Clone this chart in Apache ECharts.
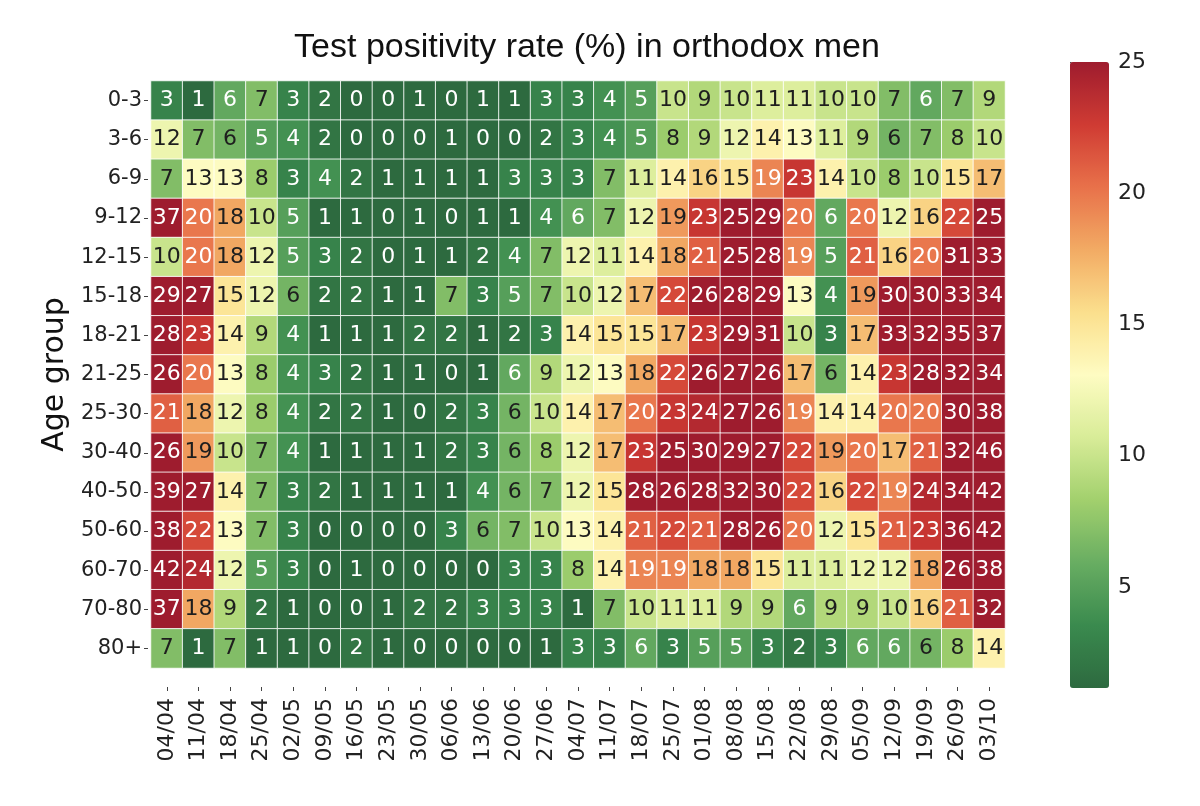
<!DOCTYPE html>
<html>
<head>
<meta charset="utf-8">
<script src="https://cdn.jsdelivr.net/npm/echarts@6/dist/echarts.min.js"></script>
<style>html,body{margin:0;padding:0;background:#fff;}#c{width:1200px;height:806px;}</style>
</head>
<body>
<div id="c"></div>
<script>
const titleText = 'Test positivity rate (%) in orthodox men';
const yName = 'Age group';
const weeks = ['04/04','11/04','18/04','25/04','02/05','09/05','16/05','23/05','30/05','06/06','13/06','20/06','27/06','04/07','11/07','18/07','25/07','01/08','08/08','15/08','22/08','29/08','05/09','12/09','19/09','26/09','03/10'];
const ageGroups = ['0-3','3-6','6-9','9-12','12-15','15-18','18-21','21-25','25-30','30-40','40-50','50-60','60-70','70-80','80+'];

const r0_3   = [3,1,5.6,7,3,2,0,0,1,0,1,1,3,3,4,5,10,9,10,11,11,10,10,7,5.6,7,9];
const r3_6   = [12,7,6.4,5,4,2,0,0,0,1,0,0,2,3,4,5,8,9,12,14,13,11,9,6.4,7,8,10];
const r6_9   = [7,13,13,8,3,4,2,1,1,1,1,3,3,3,7,11,14,16,15,19.4,23,14,10,8,10,15,17];
const r9_12  = [37,20,18,10,5,1,1,0,1,0,1,1,4,5.6,7,12,18.6,23,25,29,20,5.6,20,12,16,22,25];
const r12_15 = [10,20,18,12,5,3,2,0,1,1,2,4,7,12,11,14,18,21,25,28,19.4,5,21,16,20,31,33];
const r15_18 = [29,27,15,12,6.4,2,2,1,1,7,3,5,7,10,12,17,22,26,28,29,13,4,18.6,30,30,33,34];
const r18_21 = [28,23,14,9,4,1,1,1,2,2,1,2,3,14,15,15,17,23,29,31,10,3,17,33,32,35,37];
const r21_25 = [26,20,13,8,4,3,2,1,1,0,1,5.6,9,12,13,18,22,26,27,26,17,6.4,14,23,28,32,34];
const r25_30 = [21,18,12,8,4,2,2,1,0,2,3,6.4,10,14,17,20,23,24,27,26,19.4,14,14,20,20,30,38];
const r30_40 = [26,18.6,10,7,4,1,1,1,1,2,3,6.4,8,12,17,23,25,30,29,27,22,18.6,20,17,21,32,46];
const r40_50 = [39,27,14,7,3,2,1,1,1,1,4,6.4,7,12,15,28,26,28,32,30,22,16,22,19.4,24,34,42];
const r50_60 = [38,22,13,7,3,0,0,0,0,3,6.4,7,10,13,14,21,22,21,28,26,20,12,15,21,23,36,42];
const r60_70 = [42,24,12,5,3,0,1,0,0,0,0,3,3,8,14,19.4,19.4,18,18,15,11,11,12,12,18,26,38];
const r70_80 = [37,18,9,2,1,0,0,1,2,2,3,3,3,1,7,10,11,11,9,9,5.6,9,9,10,16,21,32];
const r80p   = [7,1,7,1,1,0,2,1,0,0,0,0,1,3,3,5.6,3,5,5,3,2,3,5.6,5.6,6.4,8,14];

const colorbarTicks = [5,10,15,20,25];
const colorMin = 1.15, colorMax = 25;

const rows = [r0_3,r3_6,r6_9,r9_12,r12_15,r15_18,r18_21,r21_25,r25_30,r30_40,r40_50,r50_60,r60_70,r70_80,r80p];
const data = [];
rows.forEach((row, yi) => row.forEach((v, xi) => data.push([xi, yi, v])));

const FONT = 'DejaVu Sans';
const chart = echarts.init(document.getElementById('c'), null, {renderer: 'canvas'});
chart.setOption({
  animation: false,
  backgroundColor: '#fff',
  title: {
    text: titleText, left: 582, top: 26, textAlign: 'center',
    textStyle: {fontFamily: '"Liberation Sans Narrow", "Liberation Sans", sans-serif', fontSize: 34, fontWeight: 'normal', color: '#111'}
  },
  grid: [
    {left: 151, top: 81, width: 854, height: 587},
    {left: 1070, top: 62, width: 39, height: 626}
  ],
  xAxis: [
    {type: 'category', data: weeks, gridIndex: 0, offset: 19,
     axisLine: {show: false}, splitLine: {show: false},
     axisTick: {show: true, alignWithLabel: true, length: 4, lineStyle: {color: '#444'}},
     axisLabel: {rotate: 90, margin: 11, fontSize: 22, fontFamily: FONT, color: '#222'}},
    {type: 'value', gridIndex: 1, show: false, min: 0, max: 1}
  ],
  yAxis: [
    {type: 'category', data: ageGroups, gridIndex: 0, inverse: true, offset: 3,
     name: yName, nameLocation: 'middle', nameGap: 72, nameRotate: 90,
     nameTextStyle: {fontSize: 30, fontFamily: FONT, color: '#111'},
     axisLine: {show: false}, splitLine: {show: false},
     axisTick: {show: true, alignWithLabel: true, length: 4, lineStyle: {color: '#444'}},
     axisLabel: {margin: 6, fontSize: 21, fontFamily: FONT, color: '#222'}},
    {type: 'value', gridIndex: 1, position: 'right', min: colorMin, max: colorMax,
     axisLine: {show: false}, splitLine: {show: false},
     axisTick: {show: true, length: 4, customValues: colorbarTicks, lineStyle: {color: '#444'}},
     axisLabel: {margin: 9, fontSize: 22, fontFamily: FONT, color: '#222', customValues: colorbarTicks}}
  ],
  visualMap: {
    type: 'continuous', min: colorMin, max: colorMax, seriesIndex: 0,
    left: 1070, top: 62, itemWidth: 39, itemHeight: 626, padding: 0,
    calculable: false, hoverLink: false, text: null, showLabel: false,
    inRange: {color: ['#2d6a3f','#3a8a4e','#68ad62','#a2d06d','#d8ec98','#fefcc2','#fbdf8d','#f2ab64','#e8714a','#cf3b33','#9e1c2e']}
  },
  series: [{
    type: 'heatmap', data: data, xAxisIndex: 0, yAxisIndex: 0,
    itemStyle: {borderColor: 'rgba(255,255,255,0.85)', borderWidth: 1},
    emphasis: {disabled: true},
    label: {
      show: true,
      formatter: p => {
        const v = p.value[2];
        const s = String(Math.round(v));
        return (v < 6 || v > 19) ? '{w|' + s + '}' : '{b|' + s + '}';
      },
      rich: {
        w: {color: '#fff', fontSize: 22, fontFamily: FONT},
        b: {color: '#1e1e1e', fontSize: 22, fontFamily: FONT}
      }
    }
  }]
});
</script>
</body>
</html>
